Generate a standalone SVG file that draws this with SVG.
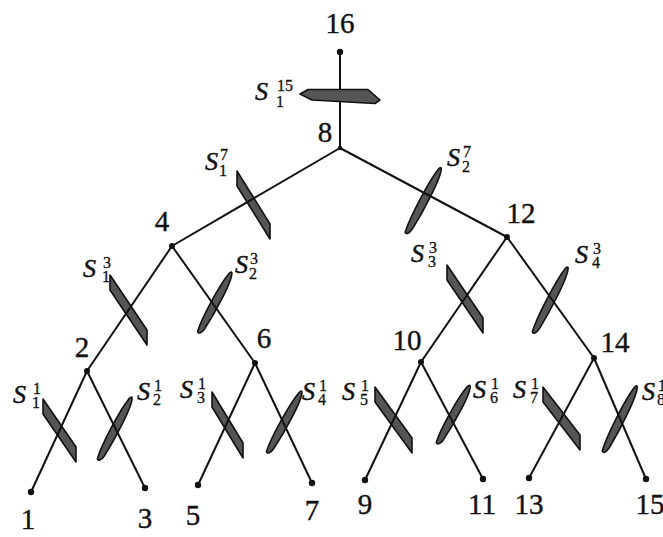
<svg xmlns="http://www.w3.org/2000/svg" xmlns:xlink="http://www.w3.org/1999/xlink" width="663" height="537" viewBox="0 0 663 537">
<defs>
<style>
.ln{stroke:#111;stroke-width:2;fill:none}
.dot{fill:#111}
.num{font-family:'Liberation Serif','DejaVu Serif',serif;font-size:29px;fill:#111;stroke:#111;stroke-width:0.4;text-anchor:middle}
.s{font-family:'Liberation Serif','DejaVu Serif',serif;font-size:26px;font-style:italic;fill:#111;stroke:#111;stroke-width:0.5}
.ix{font-size:16px;font-style:normal;stroke-width:0.3}
.pl{fill:#555;stroke:#111;stroke-width:1.6;stroke-linejoin:round}
</style>
<path id="pB" class="pl" d="M-37,0 C-30,-4.5 10,-4.8 30,-3.6 C36,-3 38,-0.5 36,1.2 C20,4.4 -20,4.8 -35,2.2 C-38,1.5 -38,0.5 -37,0 Z"/>
</defs>
<rect width="663" height="537" fill="#fff"/>
<g id="plates">
<g id="s1_7"><polygon class="pl" points="237,171 270,224 270,239 237,186"/><text class="s" x="205" y="170">S<tspan class="ix" x="220" y="160">7</tspan><tspan class="ix" x="219" y="176">1</tspan></text></g>
<g id="s2_7"><use xlink:href="#pB" transform="translate(423.5,201) rotate(118.6)"/><text class="s" x="447" y="166">S<tspan class="ix" x="463" y="157">7</tspan><tspan class="ix" x="462" y="172">2</tspan></text></g>
<g id="s1_3"><polygon class="pl" points="110,275 147,330 147,345 110,290"/><text class="s" x="83" y="277">S<tspan class="ix" x="103" y="268">3</tspan><tspan class="ix" x="102" y="282">1</tspan></text></g>
<g id="s2_3"><use xlink:href="#pB" transform="translate(215,303) rotate(119.3) scale(0.93,1)"/><text class="s" x="235" y="273">S<tspan class="ix" x="250" y="264">3</tspan><tspan class="ix" x="249" y="279">2</tspan></text></g>
<g id="s3_3"><polygon class="pl" points="447,265 483,318 483,333 447,280"/><text class="s" x="411" y="262">S<tspan class="ix" x="429" y="253">3</tspan><tspan class="ix" x="428" y="267">3</tspan></text></g>
<g id="s4_3"><use xlink:href="#pB" transform="translate(550.5,300.5) rotate(118.3)"/><text class="s" x="575" y="263">S<tspan class="ix" x="593" y="254">3</tspan><tspan class="ix" x="592" y="268">4</tspan></text></g>
<g id="s1_1"><polygon class="pl" points="43,399 76,447 76,462 43,414"/><text class="s" x="13" y="403">S<tspan class="ix" x="33" y="394">1</tspan><tspan class="ix" x="32" y="408">1</tspan></text></g>
<g id="s2_1"><use xlink:href="#pB" transform="translate(115,429) rotate(118.7) scale(0.96,1)"/><text class="s" x="137" y="400">S<tspan class="ix" x="154" y="391">1</tspan><tspan class="ix" x="153" y="405">2</tspan></text></g>
<g id="s3_1"><polygon class="pl" points="212,392 243,443 243,458 212,407"/><text class="s" x="180" y="398">S<tspan class="ix" x="198" y="389">1</tspan><tspan class="ix" x="197" y="403">3</tspan></text></g>
<g id="s4_1"><use xlink:href="#pB" transform="translate(284.5,422.5) rotate(119.8) scale(0.95,1)"/><text class="s" x="302" y="400">S<tspan class="ix" x="319" y="391">1</tspan><tspan class="ix" x="318" y="405">4</tspan></text></g>
<g id="s5_1"><polygon class="pl" points="375,387 412,438 412,453 375,402"/><text class="s" x="342" y="400">S<tspan class="ix" x="361" y="391">1</tspan><tspan class="ix" x="360" y="405">5</tspan></text></g>
<g id="s6_1"><use xlink:href="#pB" transform="translate(453.5,415) rotate(120) scale(0.9,1)"/><text class="s" x="473" y="398">S<tspan class="ix" x="491" y="389">1</tspan><tspan class="ix" x="490" y="403">6</tspan></text></g>
<g id="s7_1"><polygon class="pl" points="543,387 580,435 580,450 543,402"/><text class="s" x="513" y="398">S<tspan class="ix" x="531" y="389">1</tspan><tspan class="ix" x="530" y="403">7</tspan></text></g>
<g id="s8_1"><use xlink:href="#pB" transform="translate(620,419.5) rotate(117.6)"/><text class="s" x="642" y="400">S<tspan class="ix" x="658" y="391">1</tspan><tspan class="ix" x="657" y="405">8</tspan></text></g>
</g>
<g id="connectors">
<line class="ln" x1="340" y1="52" x2="340" y2="148"/>
<line class="ln" x1="340" y1="148" x2="172" y2="246"/>
<line class="ln" x1="340" y1="148" x2="507" y2="237"/>
<line class="ln" x1="172" y1="246" x2="87" y2="371"/>
<line class="ln" x1="172" y1="246" x2="255" y2="363"/>
<line class="ln" x1="507" y1="237" x2="421" y2="362"/>
<line class="ln" x1="507" y1="237" x2="594" y2="358"/>
<line class="ln" x1="87" y1="371" x2="31" y2="492"/>
<line class="ln" x1="87" y1="371" x2="145" y2="488"/>
<line class="ln" x1="255" y1="363" x2="198" y2="485"/>
<line class="ln" x1="255" y1="363" x2="312" y2="483"/>
<line class="ln" x1="421" y1="362" x2="365" y2="480"/>
<line class="ln" x1="421" y1="362" x2="483" y2="479"/>
<line class="ln" x1="594" y1="358" x2="529" y2="478"/>
<line class="ln" x1="594" y1="358" x2="646" y2="479"/>
</g>
<g id="s1_15"><polygon class="pl" points="300,94 308,89.5 368,89.5 380,100 375,103.5 312,100"/><text class="s" x="255" y="100">S<tspan class="ix" x="277" y="91">15</tspan><tspan class="ix" x="276" y="107">1</tspan></text></g>
<g id="n16"><circle class="dot" cx="340" cy="52" r="3.2"/><text class="num" x="340" y="33">16</text></g>
<g id="n8"><circle class="dot" cx="340" cy="148" r="2.2"/><text class="num" x="325" y="142">8</text></g>
<g id="n4"><circle class="dot" cx="172" cy="246" r="3"/><text class="num" x="162" y="231">4</text></g>
<g id="n12"><circle class="dot" cx="507" cy="237" r="3"/><text class="num" x="521" y="223">12</text></g>
<g id="n2"><circle class="dot" cx="87" cy="371" r="3"/><text class="num" x="82" y="357">2</text></g>
<g id="n6"><circle class="dot" cx="255" cy="363" r="3"/><text class="num" x="264" y="348">6</text></g>
<g id="n10"><circle class="dot" cx="421" cy="362" r="3"/><text class="num" x="407" y="350">10</text></g>
<g id="n14"><circle class="dot" cx="594" cy="358" r="3"/><text class="num" x="615" y="352">14</text></g>
<g id="n1"><circle class="dot" cx="31" cy="492" r="3.2"/><text class="num" x="28" y="529">1</text></g>
<g id="n3"><circle class="dot" cx="145" cy="488" r="3.2"/><text class="num" x="145" y="528">3</text></g>
<g id="n5"><circle class="dot" cx="198" cy="485" r="3.2"/><text class="num" x="193" y="525">5</text></g>
<g id="n7"><circle class="dot" cx="312" cy="483" r="3.2"/><text class="num" x="312" y="520">7</text></g>
<g id="n9"><circle class="dot" cx="365" cy="480" r="3.2"/><text class="num" x="365" y="514">9</text></g>
<g id="n11"><circle class="dot" cx="483" cy="479" r="3.2"/><text class="num" x="482" y="514">11</text></g>
<g id="n13"><circle class="dot" cx="529" cy="478" r="3.2"/><text class="num" x="529" y="514">13</text></g>
<g id="n15"><circle class="dot" cx="646" cy="479" r="3.2"/><text class="num" x="650" y="514">15</text></g>
</svg>
